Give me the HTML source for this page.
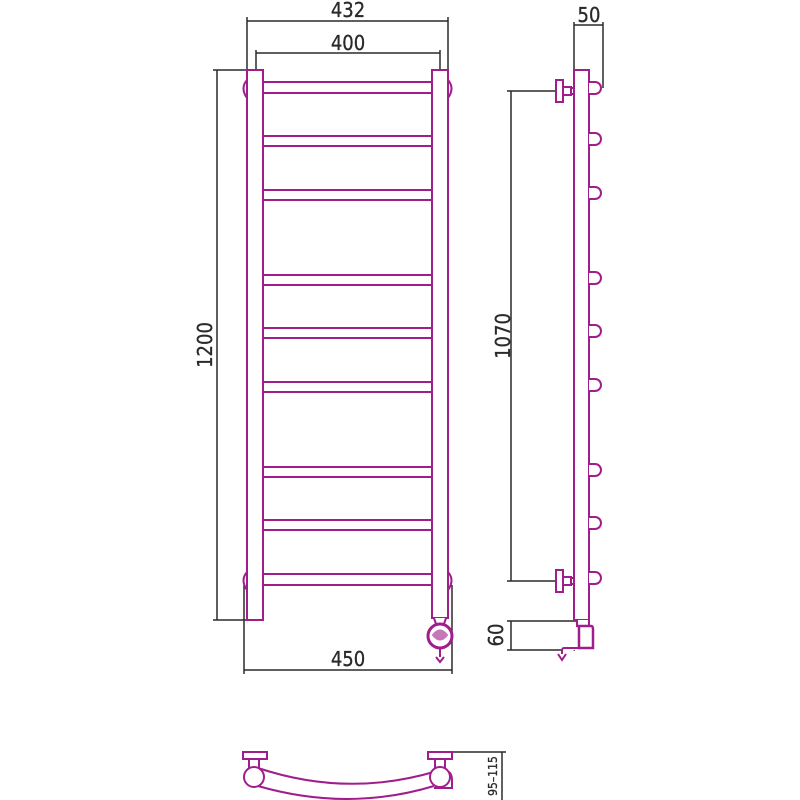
<!DOCTYPE html>
<html><head><meta charset="utf-8"><style>html,body{margin:0;padding:0;background:#fff}svg{display:block}</style></head>
<body>
<svg width="800" height="800" viewBox="0 0 800 800" xmlns="http://www.w3.org/2000/svg">
<g fill="none" stroke="#2a2a2a" stroke-width="1.5">
  <line x1="247" y1="21" x2="448" y2="21"/>
  <line x1="247" y1="17" x2="247" y2="70"/>
  <line x1="448" y1="17" x2="448" y2="70"/>
  <line x1="256" y1="53" x2="440" y2="53"/>
  <line x1="256" y1="50" x2="256" y2="70"/>
  <line x1="440" y1="50" x2="440" y2="70"/>
  <line x1="217" y1="70" x2="217" y2="620"/>
  <line x1="213" y1="70" x2="247" y2="70"/>
  <line x1="213" y1="620" x2="247" y2="620"/>
  <line x1="244" y1="670" x2="452" y2="670"/>
  <line x1="244" y1="585" x2="244" y2="674"/>
  <line x1="452" y1="585" x2="452" y2="674"/>
  <line x1="574" y1="25" x2="603" y2="25"/>
  <line x1="574" y1="22" x2="574" y2="70"/>
  <line x1="603" y1="22" x2="603" y2="88"/>
  <line x1="511" y1="91" x2="511" y2="581"/>
  <line x1="507" y1="91" x2="557" y2="91"/>
  <line x1="507" y1="581" x2="557" y2="581"/>
  <line x1="511" y1="621" x2="511" y2="650"/>
  <line x1="507" y1="621" x2="577" y2="621"/>
  <line x1="507" y1="650" x2="575" y2="650"/>
  <line x1="502" y1="752" x2="502" y2="800"/>
  <line x1="452" y1="752" x2="506" y2="752"/>
</g>
<g font-family="'DejaVu Sans Condensed','DejaVu Sans',sans-serif" font-size="20" fill="#2a2a2a" text-anchor="middle" stroke="#2a2a2a" stroke-width="0.3">
  <text x="348" y="17">432</text>
  <text x="348" y="50">400</text>
  <text x="348" y="666">450</text>
  <text x="589" y="22">50</text>
  <text transform="translate(212,345) rotate(-90)">1200</text>
  <text transform="translate(510,336) rotate(-90)">1070</text>
  <text transform="translate(503,635) rotate(-90)">60</text>
  <text font-size="12" transform="translate(497,776) rotate(-90)">95–115</text>
</g>
<g fill="#fff" stroke="#a01e8c" stroke-width="2">
  <path d="M247 80 Q240 88 247 98"/>
  <path d="M448 80 Q455 88 448 98"/>
  <path d="M247 572 Q240 580 247 590"/>
  <path d="M448 572 Q455 580 448 590"/>
  <rect x="263" y="82" width="169" height="11"/>
  <rect x="263" y="136" width="169" height="10"/>
  <rect x="263" y="190" width="169" height="10"/>
  <rect x="263" y="275" width="169" height="10"/>
  <rect x="263" y="328" width="169" height="10"/>
  <rect x="263" y="382" width="169" height="10"/>
  <rect x="263" y="467" width="169" height="10"/>
  <rect x="263" y="520" width="169" height="10"/>
  <rect x="263" y="574" width="169" height="11"/>
  <rect x="247" y="70" width="16" height="550"/>
  <rect x="432" y="70" width="16" height="548"/>
  <path d="M434 618 L436 624 L444 624 L446 618"/>
  <circle cx="440" cy="636" r="12" stroke-width="3"/>
  <path d="M433 635 Q440 626 447 635 Q440 644 433 635 Z" fill="#a01e8c" opacity="0.6"/>
  <line x1="440" y1="648" x2="440" y2="662"/>
  <path d="M436 657 L440 662 L444 657"/>
  <rect x="574" y="70" width="15" height="550"/>
  <g>
    <path d="M589 82 h6 a6 6 0 0 1 0 12 h-6"/>
    <path d="M589 133 h6 a6 6 0 0 1 0 12 h-6"/>
    <path d="M589 187 h6 a6 6 0 0 1 0 12 h-6"/>
    <path d="M589 272 h6 a6 6 0 0 1 0 12 h-6"/>
    <path d="M589 325 h6 a6 6 0 0 1 0 12 h-6"/>
    <path d="M589 379 h6 a6 6 0 0 1 0 12 h-6"/>
    <path d="M589 464 h6 a6 6 0 0 1 0 12 h-6"/>
    <path d="M589 517 h6 a6 6 0 0 1 0 12 h-6"/>
    <path d="M589 572 h6 a6 6 0 0 1 0 12 h-6"/>
  </g>
  <rect x="556" y="80" width="7" height="22"/>
  <rect x="563" y="87" width="8" height="8"/>
  <rect x="571" y="88" width="3" height="6"/>
  <rect x="556" y="570" width="7" height="22"/>
  <rect x="563" y="577" width="8" height="8"/>
  <rect x="571" y="578" width="3" height="6"/>
  <path d="M577 620 v6 h12 v-6"/>
  <path d="M577 626 h14 q2 0 2 3 v19 h-14 v-22 z" stroke-width="2.5"/>
  <path d="M578 648 h-14 q-2 0 -2 3 v6"/>
  <path d="M558 654 L562 660 L566 654"/>
  <path d="M258 786 Q348 812 434 786 L437 771 Q348 798 258 768 Z"/>
  <path d="M437 770 Q452 768 452 780 L452 788 L434 788"/>
  <rect x="243" y="752" width="24" height="7"/>
  <rect x="249" y="759" width="10" height="9"/>
  <circle cx="254" cy="777" r="10"/>
  <rect x="428" y="752" width="24" height="7"/>
  <rect x="435" y="759" width="10" height="9"/>
  <circle cx="440" cy="777" r="10"/>
</g>
</svg>
</body></html>
